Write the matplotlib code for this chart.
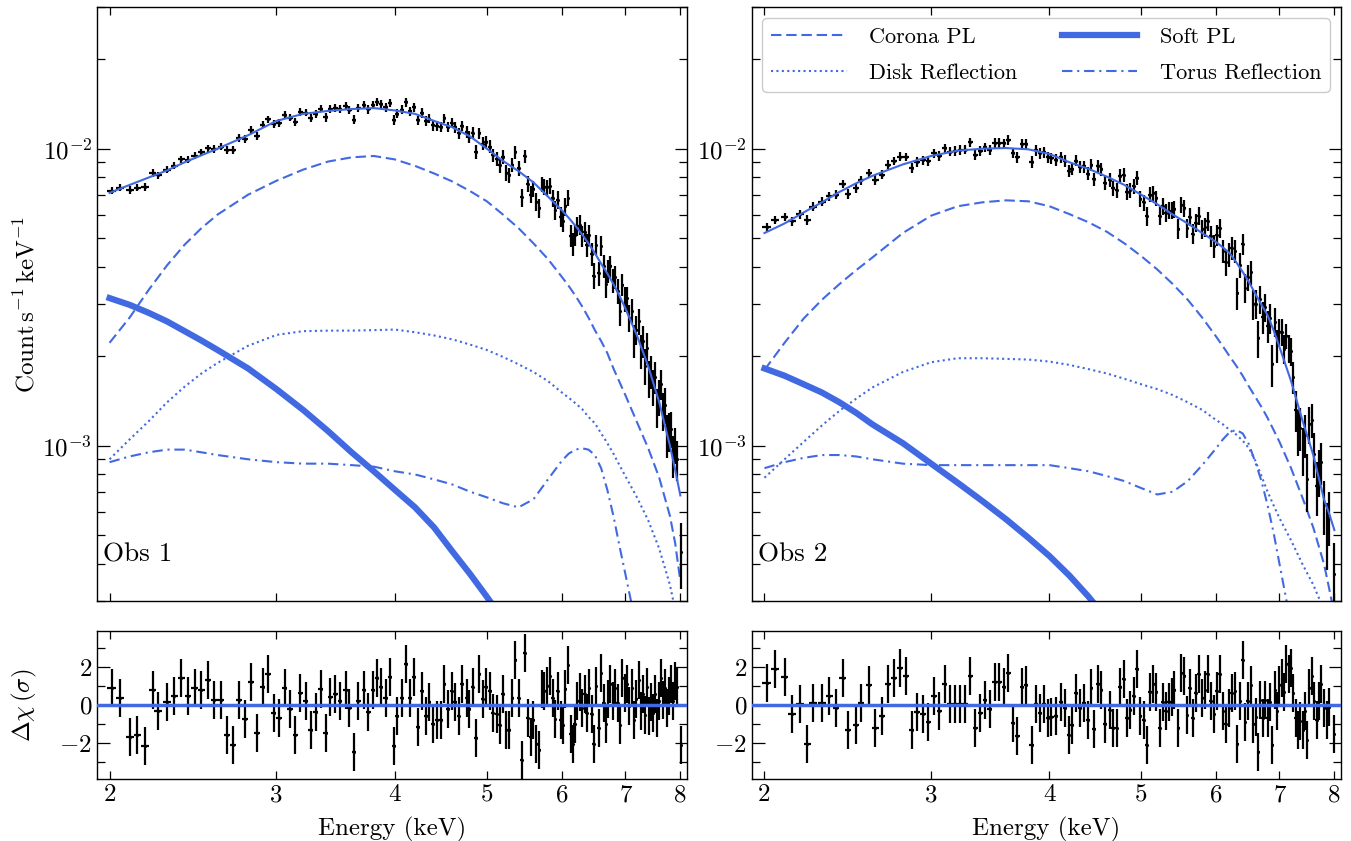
import numpy as np
import matplotlib
matplotlib.use("Agg")
import matplotlib.pyplot as plt
from matplotlib.ticker import FixedLocator, NullLocator, MultipleLocator, FuncFormatter, LogLocator

plt.rcParams['font.family'] = 'serif'
plt.rcParams['font.serif'] = ['cmr10']
plt.rcParams['mathtext.fontset'] = 'cm'
plt.rcParams['axes.formatter.use_mathtext'] = True

# model grid (keV) and model components, counts/s/keV in units of 1e-3
energy_grid = [2.0, 2.1, 2.2, 2.3, 2.4, 2.5, 2.6, 2.8, 3.0, 3.2, 3.4, 3.6, 3.8, 4.0,
               4.2, 4.4, 4.6, 4.8, 5.0, 5.2, 5.4, 5.6, 5.8, 6.0, 6.1, 6.2, 6.3, 6.4,
               6.5, 6.6, 6.7, 6.8, 6.9, 7.0, 7.2, 7.4, 7.6, 7.8, 7.9, 8.0]

obs1_total = [7.1, 7.55, 8.0, 8.45, 9.0, 9.5, 10.0, 11.1, 12.4, 13.1, 13.4, 13.6, 13.7, 13.45,
              13.1, 12.4, 11.8, 11.0, 10.0, 9.1, 8.4, 7.7, 6.9, 6.2, 5.85, 5.5, 5.15, 4.8,
              4.45, 4.1, 3.8, 3.5, 3.2, 2.9, 2.35, 1.85, 1.40, 1.00, 0.83, 0.68]
obs1_corona = [2.22, 2.70, 3.35, 4.05, 4.75, 5.40, 6.00, 7.00, 7.80, 8.50, 9.05, 9.35, 9.45, 9.20,
               8.75, 8.25, 7.75, 7.20, 6.65, 6.00, 5.40, 4.80, 4.25, 3.70, 3.45, 3.20, 2.95, 2.70,
               2.45, 2.25, 2.05, 1.82, 1.64, 1.48, 1.20, 0.98, 0.78, 0.58, 0.47, 0.35]
obs1_soft = [3.14, 2.98, 2.80, 2.62, 2.43, 2.26, 2.10, 1.82, 1.55, 1.32, 1.12, 0.95, 0.82, 0.71,
             0.62, 0.53, 0.44, 0.37, 0.31, 0.26]
obs1_disk = [0.90, 1.05, 1.21, 1.40, 1.58, 1.75, 1.90, 2.17, 2.36, 2.43, 2.44, 2.44, 2.45, 2.46,
             2.41, 2.35, 2.28, 2.19, 2.10, 1.99, 1.88, 1.77, 1.65, 1.51, 1.45, 1.39, 1.33, 1.25,
             1.19, 1.10, 1.02, 0.94, 0.86, 0.79, 0.67, 0.56, 0.45, 0.34, 0.28]
obs1_torus = [0.88, 0.92, 0.95, 0.97, 0.97, 0.95, 0.93, 0.90, 0.88, 0.87, 0.87, 0.86, 0.85, 0.82,
              0.80, 0.77, 0.74, 0.70, 0.67, 0.64, 0.62, 0.66, 0.77, 0.89, 0.94, 0.97, 0.98, 0.97,
              0.93, 0.84, 0.71, 0.58, 0.46, 0.37, 0.24]

obs2_total = [5.2, 5.6, 6.1, 6.6, 7.15, 7.65, 8.1, 8.85, 9.45, 9.85, 10.0, 10.05, 9.95, 9.6,
              9.0, 8.55, 8.05, 7.55, 7.0, 6.5, 6.0, 5.6, 5.2, 4.85, 4.65, 4.45, 4.15, 3.85,
              3.55, 3.25, 2.98, 2.75, 2.45, 2.15, 1.65, 1.22, 0.93, 0.66, 0.59, 0.52]
obs2_corona = [1.80, 2.22, 2.68, 3.10, 3.50, 3.90, 4.30, 5.20, 5.95, 6.40, 6.60, 6.70, 6.65, 6.40,
               6.02, 5.65, 5.25, 4.80, 4.35, 3.92, 3.50, 3.10, 2.70, 2.33, 2.16, 2.00, 1.86, 1.72,
               1.58, 1.46, 1.35, 1.24, 1.13, 1.03, 0.84, 0.67, 0.53, 0.40, 0.33, 0.27]
obs2_soft = [1.82, 1.72, 1.61, 1.51, 1.40, 1.29, 1.18, 1.02, 0.87, 0.75, 0.65, 0.565, 0.49, 0.425,
             0.365, 0.31, 0.26]
obs2_disk = [0.78, 0.90, 1.03, 1.17, 1.31, 1.44, 1.57, 1.77, 1.91, 1.97, 1.97, 1.96, 1.95, 1.92,
             1.87, 1.81, 1.75, 1.68, 1.61, 1.55, 1.48, 1.40, 1.32, 1.22, 1.18, 1.13, 1.09, 1.04,
             0.98, 0.89, 0.79, 0.70, 0.63, 0.57, 0.48, 0.40, 0.34, 0.28]
obs2_torus = [0.84, 0.88, 0.91, 0.93, 0.93, 0.92, 0.90, 0.87, 0.86, 0.86, 0.86, 0.86, 0.86, 0.86,
              0.84, 0.82, 0.79, 0.76, 0.72, 0.685, 0.70, 0.76, 0.86, 0.98, 1.05, 1.11, 1.13, 1.10,
              1.01, 0.88, 0.76, 0.63, 0.51, 0.40, 0.25]

# binned spectra: channel energy (keV), rate and error (1e-3 counts/s/keV), residual (sigma)
obs1_energy = [2.01, 2.05, 2.10, 2.14, 2.18, 2.22, 2.25, 2.30, 2.34, 2.38, 2.42, 2.46, 2.50, 2.54,
               2.58, 2.62, 2.66, 2.70, 2.74, 2.78, 2.82, 2.86, 2.90, 2.94, 2.98, 3.02, 3.06, 3.10,
               3.14, 3.18, 3.22, 3.26, 3.30, 3.34, 3.38, 3.42, 3.46, 3.50, 3.55, 3.58, 3.62, 3.66,
               3.71, 3.75, 3.79, 3.83, 3.87, 3.91, 3.95, 3.99, 4.02, 4.07, 4.11, 4.15, 4.19, 4.23,
               4.27, 4.31, 4.35, 4.39, 4.43, 4.47, 4.51, 4.55, 4.59, 4.63, 4.67, 4.71, 4.76, 4.79,
               4.83, 4.87, 4.91, 4.95, 4.99, 5.04, 5.07, 5.12, 5.16, 5.20, 5.24, 5.28, 5.32, 5.36,
               5.40, 5.44, 5.48, 5.52, 5.56, 5.60, 5.64, 5.68, 5.72, 5.75, 5.79, 5.83, 5.87, 5.90,
               5.94, 5.98, 6.01, 6.05, 6.09, 6.13, 6.16, 6.19, 6.23, 6.27, 6.30, 6.34, 6.37, 6.41,
               6.45, 6.48, 6.52, 6.56, 6.60, 6.64, 6.68, 6.71, 6.75, 6.79, 6.83, 6.87, 6.91, 6.95,
               6.99, 7.03, 7.07, 7.11, 7.15, 7.19, 7.23, 7.27, 7.30, 7.34, 7.38, 7.41, 7.45, 7.48,
               7.52, 7.56, 7.59, 7.63, 7.67, 7.70, 7.74, 7.78, 7.82, 7.86, 7.90, 7.94, 8.01]
obs1_rate = [7.23, 7.38, 7.25, 7.40, 7.42, 8.28, 8.13, 8.49, 8.76, 9.21, 9.17, 9.48, 9.71, 10.05,
             9.97, 10.17, 9.89, 9.92, 10.87, 10.77, 11.58, 11.03, 12.06, 12.54, 12.14, 12.24, 12.98, 12.73,
             12.28, 13.30, 13.23, 12.67, 13.09, 13.64, 12.75, 13.57, 13.70, 13.59, 13.89, 13.52, 12.53, 13.74,
             13.99, 13.55, 14.05, 14.35, 14.09, 13.78, 14.25, 12.48, 13.13, 13.53, 14.32, 13.38, 13.80, 12.45,
             13.20, 12.43, 12.63, 11.98, 11.92, 11.82, 12.64, 11.86, 12.21, 11.79, 11.27, 11.95, 11.40, 10.95,
             11.33, 9.76, 11.27, 10.40, 10.53, 10.17, 9.50, 9.22, 8.79, 9.39, 8.30, 8.15, 8.84, 9.72,
             8.59, 6.85, 9.42, 7.61, 7.01, 7.32, 6.61, 6.30, 7.58, 7.44, 7.41, 7.50, 6.81, 6.21,
             6.74, 5.91, 5.70, 6.39, 6.83, 5.09, 4.77, 5.13, 5.49, 5.55, 5.09, 5.25, 4.74, 5.13,
             4.43, 3.74, 4.75, 3.80, 4.71, 4.02, 3.50, 3.88, 4.02, 3.60, 3.71, 3.33, 2.84, 3.48,
             3.12, 3.14, 2.70, 2.85, 2.26, 2.46, 2.62, 2.08, 2.25, 1.86, 2.14, 1.69, 1.78, 1.58,
             1.70, 1.35, 1.46, 1.61, 1.31, 1.37, 1.09, 1.12, 1.14, 0.93, 1.01, 0.90, 0.44]
obs1_rate_err = [0.20, 0.20, 0.21, 0.22, 0.22, 0.23, 0.23, 0.24, 0.24, 0.25, 0.25, 0.26, 0.27, 0.27,
                 0.28, 0.28, 0.29, 0.30, 0.30, 0.31, 0.31, 0.32, 0.33, 0.34, 0.37, 0.37, 0.38, 0.38,
                 0.39, 0.39, 0.39, 0.40, 0.40, 0.40, 0.41, 0.41, 0.41, 0.42, 0.42, 0.42, 0.43, 0.43,
                 0.44, 0.44, 0.45, 0.45, 0.46, 0.46, 0.47, 0.47, 0.47, 0.47, 0.47, 0.47, 0.47, 0.47,
                 0.47, 0.47, 0.47, 0.48, 0.48, 0.48, 0.48, 0.48, 0.48, 0.48, 0.49, 0.49, 0.50, 0.51,
                 0.51, 0.51, 0.51, 0.51, 0.50, 0.50, 0.50, 0.50, 0.49, 0.49, 0.50, 0.49, 0.49, 0.49,
                 0.49, 0.48, 0.48, 0.48, 0.47, 0.47, 0.46, 0.46, 0.46, 0.46, 0.46, 0.46, 0.46, 0.46,
                 0.46, 0.45, 0.45, 0.44, 0.44, 0.43, 0.42, 0.42, 0.42, 0.42, 0.42, 0.41, 0.41, 0.40,
                 0.39, 0.38, 0.37, 0.36, 0.36, 0.36, 0.35, 0.35, 0.34, 0.34, 0.33, 0.32, 0.31, 0.30,
                 0.29, 0.29, 0.28, 0.28, 0.28, 0.27, 0.27, 0.27, 0.27, 0.26, 0.25, 0.24, 0.23, 0.22,
                 0.21, 0.20, 0.20, 0.19, 0.19, 0.19, 0.18, 0.17, 0.16, 0.15, 0.14, 0.14, 0.11]
obs1_resid = [0.91, 0.39, -1.68, -1.58, -2.16, 0.77, -0.32, 0.18, 0.46, 1.44, 0.49, 0.88, 0.79, 1.30,
              0.26, 0.26, -1.58, -2.10, 0.25, -0.75, 1.21, -1.46, 0.95, 1.61, -0.44, -0.70, 0.88, -0.19,
              -1.58, 0.63, 0.21, -1.32, -0.39, 0.84, -1.46, 0.42, 0.60, 0.21, 0.81, -0.18, -2.49, 0.21,
              0.77, -0.35, 0.77, 1.44, 0.95, 0.39, 1.49, -2.18, -0.58, 0.39, 2.18, 0.39, 1.49, -1.16,
              0.74, -0.58, 0.18, -0.98, -0.79, -0.79, 1.12, -0.19, 0.74, 0.18, -0.58, 1.12, 0.39, -0.19,
              0.95, -1.75, 1.61, 0.30, 0.95, 0.74, -0.40, -0.46, -1.05, 0.60, -1.30, -1.33, 0.39, 2.39,
              0.39, -2.91, 2.74, -0.70, -1.68, -0.81, -2.04, -2.39, 0.82, 0.74, 1.00, 1.53, 0.35, -0.75,
              0.74, -0.81, -1.05, 0.82, 2.11, -1.54, -2.07, -0.98, 0.21, 0.70, -0.14, 0.60, -0.40, 0.91,
              -0.49, -2.04, 1.00, -1.23, 1.70, 0.12, -1.02, 0.30, 1.09, 0.21, 0.91, 0.12, -1.05, 1.44,
              0.65, 1.12, -0.05, 0.88, -0.81, 0.30, 1.30, -0.32, 0.56, -0.53, 0.95, -0.58, 0.18, -0.40,
              0.56, -0.70, 0.21, 1.44, 0.25, 0.91, -0.18, 0.47, 1.09, 0.21, 1.26, 0.95, -2.10]

obs2_energy = [2.01, 2.05, 2.10, 2.14, 2.18, 2.22, 2.25, 2.30, 2.34, 2.38, 2.42, 2.45, 2.50, 2.53,
               2.58, 2.62, 2.66, 2.70, 2.74, 2.78, 2.82, 2.86, 2.90, 2.94, 2.98, 3.02, 3.06, 3.10,
               3.14, 3.18, 3.22, 3.26, 3.30, 3.34, 3.38, 3.42, 3.46, 3.50, 3.54, 3.58, 3.62, 3.66,
               3.70, 3.74, 3.78, 3.83, 3.87, 3.91, 3.95, 3.99, 4.02, 4.06, 4.11, 4.15, 4.19, 4.23,
               4.27, 4.31, 4.35, 4.39, 4.43, 4.46, 4.50, 4.54, 4.58, 4.63, 4.67, 4.71, 4.75, 4.79,
               4.83, 4.87, 4.91, 4.95, 4.99, 5.03, 5.07, 5.11, 5.15, 5.19, 5.23, 5.27, 5.31, 5.35,
               5.39, 5.42, 5.47, 5.51, 5.55, 5.59, 5.63, 5.67, 5.71, 5.75, 5.80, 5.84, 5.88, 5.92,
               5.97, 6.01, 6.05, 6.10, 6.14, 6.19, 6.23, 6.28, 6.32, 6.36, 6.40, 6.44, 6.48, 6.53,
               6.57, 6.61, 6.65, 6.68, 6.72, 6.76, 6.80, 6.84, 6.88, 6.92, 6.96, 7.00, 7.04, 7.08,
               7.12, 7.16, 7.20, 7.24, 7.28, 7.32, 7.36, 7.41, 7.45, 7.49, 7.53, 7.57, 7.62, 7.66,
               7.70, 7.75, 7.81, 7.85, 7.90, 8.00]
obs2_rate = [5.46, 5.76, 5.89, 5.71, 6.01, 5.75, 6.38, 6.63, 6.91, 7.01, 7.61, 7.05, 7.36, 7.83,
             8.29, 7.84, 8.18, 8.84, 9.08, 9.40, 9.37, 8.63, 9.03, 9.14, 9.09, 9.66, 9.48, 10.05,
             9.78, 9.83, 9.88, 9.93, 10.52, 9.53, 9.85, 10.10, 9.91, 10.48, 10.48, 10.42, 10.72, 9.68,
             9.35, 10.38, 10.40, 9.03, 9.88, 9.64, 9.73, 9.34, 9.30, 9.17, 9.34, 9.09, 8.40, 8.53,
             9.12, 8.69, 8.71, 8.24, 8.84, 7.88, 8.77, 8.52, 7.69, 7.85, 7.35, 7.24, 8.08, 8.15,
             7.16, 7.25, 7.47, 7.96, 6.79, 6.59, 5.93, 7.01, 7.08, 6.81, 5.94, 6.40, 6.09, 6.19,
             6.19, 6.27, 5.37, 6.46, 6.31, 5.41, 5.89, 5.18, 5.64, 5.94, 5.36, 5.44, 5.70, 5.08,
             4.71, 5.13, 5.41, 4.52, 4.15, 4.41, 4.63, 4.51, 3.27, 4.05, 4.77, 3.40, 3.69, 3.84,
             3.00, 3.01, 2.30, 3.11, 2.71, 2.93, 2.53, 2.69, 1.88, 2.61, 2.18, 2.42, 2.41, 2.12,
             2.34, 2.13, 2.08, 1.70, 1.32, 1.12, 1.15, 0.97, 1.09, 0.77, 1.18, 1.22, 0.94, 0.73,
             0.82, 0.88, 0.63, 0.51, 0.58, 0.37]
obs2_rate_err = [0.18, 0.19, 0.20, 0.20, 0.21, 0.22, 0.22, 0.23, 0.24, 0.25, 0.25, 0.26, 0.27, 0.27,
                 0.28, 0.29, 0.29, 0.30, 0.30, 0.31, 0.31, 0.32, 0.33, 0.34, 0.35, 0.35, 0.36, 0.36,
                 0.36, 0.36, 0.37, 0.37, 0.37, 0.37, 0.38, 0.38, 0.38, 0.39, 0.39, 0.39, 0.40, 0.40,
                 0.40, 0.40, 0.41, 0.41, 0.41, 0.41, 0.41, 0.40, 0.40, 0.40, 0.40, 0.40, 0.40, 0.40,
                 0.41, 0.41, 0.41, 0.41, 0.41, 0.41, 0.42, 0.42, 0.42, 0.42, 0.42, 0.43, 0.43, 0.43,
                 0.44, 0.44, 0.44, 0.43, 0.42, 0.42, 0.42, 0.42, 0.41, 0.41, 0.41, 0.41, 0.41, 0.41,
                 0.41, 0.41, 0.41, 0.40, 0.40, 0.40, 0.40, 0.40, 0.40, 0.40, 0.40, 0.40, 0.40, 0.41,
                 0.41, 0.41, 0.41, 0.41, 0.41, 0.41, 0.41, 0.40, 0.40, 0.39, 0.39, 0.38, 0.37, 0.36,
                 0.35, 0.34, 0.33, 0.33, 0.33, 0.32, 0.32, 0.31, 0.30, 0.29, 0.28, 0.26, 0.25, 0.24,
                 0.23, 0.23, 0.22, 0.21, 0.21, 0.20, 0.19, 0.18, 0.18, 0.17, 0.17, 0.16, 0.16, 0.15,
                 0.15, 0.14, 0.13, 0.13, 0.12, 0.10]
obs2_resid = [1.18, 1.88, 1.47, -0.46, 0.07, -2.04, 0.12, 0.12, 0.47, -0.14, 1.44, -1.33, -1.07, 0.12,
              1.05, -1.23, -0.58, 1.12, 1.44, 1.96, 1.53, -1.30, -0.35, -0.46, -0.88, 0.46, -0.32, 1.12,
              0.07, 0.07, 0.07, 0.07, 1.53, -1.19, -0.40, 0.25, -0.23, 1.23, 1.23, 0.95, 1.67, -0.93,
              -1.63, 0.95, 1.05, -2.11, 0.07, -0.40, 0.07, -0.70, -0.63, -0.58, 0.18, -0.14, -1.58, -1.05,
              0.65, -0.14, 0.12, -0.81, 0.91, -1.28, 1.12, 0.77, -0.98, -0.28, -1.23, -1.23, 0.95, 1.35,
              -0.70, -0.28, 0.47, 1.88, -0.58, -0.81, -2.11, 0.70, 1.12, 0.70, -1.19, 0.18, -0.32, 0.18,
              0.42, 0.77, -1.19, 1.70, 1.53, -0.53, 0.88, -0.70, 0.65, 1.61, 0.39, 0.77, 1.61, 0.21,
              -0.46, 0.74, 1.61, -0.32, -1.02, -0.14, 0.65, 0.74, -2.04, 0.21, 2.35, -0.88, 0.21, 1.05,
              -0.98, -0.63, -2.46, 0.25, -0.70, 0.25, -0.70, 0.18, -2.11, 0.77, -0.32, 1.05, 1.44, 0.70,
              2.14, 1.65, 1.96, 0.65, -0.70, -1.33, -0.84, -1.33, -0.32, -1.86, 0.88, 1.53, 0.21, -0.81,
              0.21, 1.12, -0.14, -0.81, -0.11, -1.54]

half_bin = 0.02  # keV
BLUE = 'royalblue'
TICKS = [2, 3, 4, 5, 6, 7, 8]


def style_axis(ax):
    ax.set_xscale('log')
    ax.set_xlim(1.94, 8.13)
    ax.xaxis.set_major_locator(FixedLocator(TICKS))
    ax.xaxis.set_minor_locator(NullLocator())
    ax.xaxis.set_major_formatter(FuncFormatter(lambda v, p: '%d' % v))
    ax.tick_params(which='both', direction='in', top=True, right=True, labelsize=18, width=0.9)
    ax.tick_params(which='major', length=9)
    ax.tick_params(which='minor', length=5.5)
    ax.tick_params(axis='x', which='major', length=6)
    for s in ax.spines.values():
        s.set_linewidth(1.0)


def plot_obs(ax, axr, total, corona, soft, disk, torus, energy, rate, rate_err, resid, name):
    grid = np.array(energy_grid)
    comps = {}
    ax.plot(grid[:len(total)], np.array(total) * 1e-3, color=BLUE, lw=1.5, zorder=4)
    comps['corona'], = ax.plot(grid[:len(corona)], np.array(corona) * 1e-3, color=BLUE,
                               lw=1.5, ls=(0, (5, 2.3)), label='Corona PL')
    comps['disk'], = ax.plot(grid[:len(disk)], np.array(disk) * 1e-3, color=BLUE,
                             lw=1.5, ls=(0, (1, 1.6)), label='Disk Reflection')
    comps['soft'], = ax.plot(grid[:len(soft)], np.array(soft) * 1e-3, color=BLUE,
                             lw=4.5, label='Soft PL')
    comps['torus'], = ax.plot(grid[:len(torus)], np.array(torus) * 1e-3, color=BLUE,
                              lw=1.5, ls=(0, (5, 2.3, 1, 2.3)), label='Torus Reflection')
    ax.errorbar(energy, np.array(rate) * 1e-3, xerr=half_bin, yerr=np.array(rate_err) * 1e-3,
                fmt='.', color='k', ms=2.5, elinewidth=1.6, capsize=0, zorder=3)
    ax.set_yscale('log')
    ax.set_ylim(3e-4, 3e-2)
    ax.yaxis.set_major_locator(LogLocator(base=10))
    ax.yaxis.set_minor_locator(LogLocator(base=10, subs=np.arange(2, 10)))
    style_axis(ax)
    ax.tick_params(labelbottom=False)
    ax.text(0.01, 0.078, name, transform=ax.transAxes, fontsize=19.5, va='center', ha='left')

    axr.errorbar(energy, resid, xerr=half_bin, yerr=1.0, fmt='.', color='k', ms=2.5,
                 elinewidth=1.6, capsize=0, zorder=2)
    axr.axhline(0, color=BLUE, lw=2.5, zorder=3)
    axr.set_ylim(-3.9, 3.9)
    axr.yaxis.set_major_locator(MultipleLocator(2))
    axr.yaxis.set_minor_locator(MultipleLocator(1))
    style_axis(axr)
    axr.set_xlabel('Energy (keV)', fontsize=18, labelpad=8)
    return comps


fig = plt.figure(figsize=(13.51, 8.41), dpi=100)
ax1 = fig.add_axes([0.0718, 0.2854, 0.4367, 0.7063])
ax1r = fig.add_axes([0.0718, 0.0737, 0.4367, 0.1760])
ax2 = fig.add_axes([0.5566, 0.2854, 0.4360, 0.7063])
ax2r = fig.add_axes([0.5566, 0.0737, 0.4360, 0.1760])

plot_obs(ax1, ax1r, obs1_total, obs1_corona, obs1_soft, obs1_disk, obs1_torus,
         obs1_energy, obs1_rate, obs1_rate_err, obs1_resid, 'Obs 1')
h = plot_obs(ax2, ax2r, obs2_total, obs2_corona, obs2_soft, obs2_disk, obs2_torus,
             obs2_energy, obs2_rate, obs2_rate_err, obs2_resid, 'Obs 2')

ax1.set_ylabel(r'Count$\,$s$^{-1}\,$keV$^{-1}$', fontsize=18)
ax1r.set_ylabel(r'$\Delta\chi\,(\sigma)$', fontsize=18)
ax1.yaxis.set_label_coords(-0.098, 0.5)
ax1r.yaxis.set_label_coords(-0.098, 0.5)

ax2.legend(handles=[h['corona'], h['disk'], h['soft'], h['torus']], ncol=2, loc='upper right',
           fontsize=16, handlelength=3.4, handletextpad=1.0, columnspacing=2.0,
           borderaxespad=0.5, labelspacing=0.75, edgecolor='#cccccc', framealpha=1.0)

fig.savefig('out.png', dpi=100)
